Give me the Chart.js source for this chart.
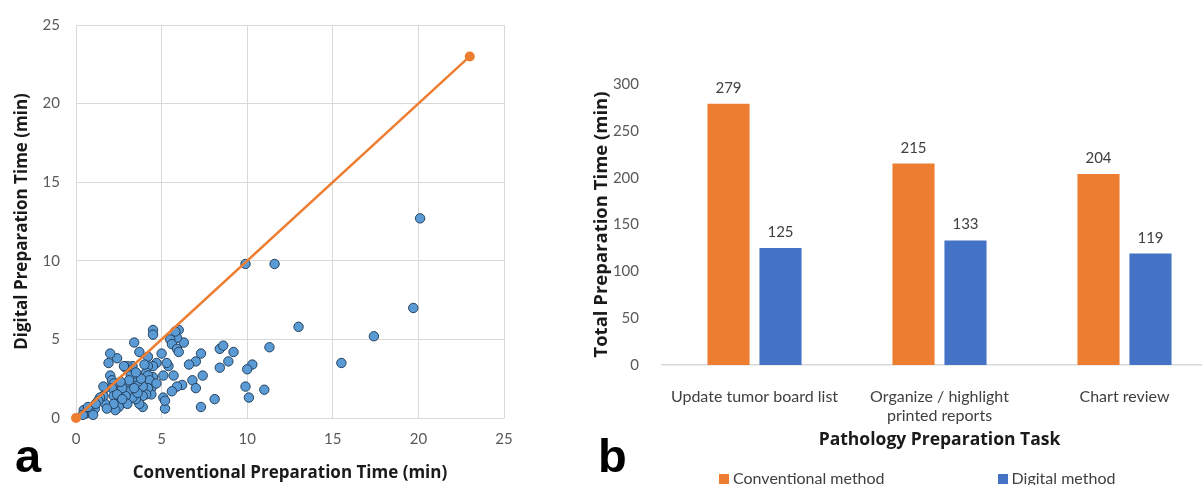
<!DOCTYPE html>
<html>
<head>
<meta charset="utf-8">
<script src="https://cdn.jsdelivr.net/npm/chart.js@4.4.1/dist/chart.umd.min.js"></script>
<style>
    html, body { margin: 0; padding: 0; background: #fff; overflow: hidden; width: 1202px; height: 485px; }
    canvas { position: absolute; top: 0; }
    #scatter { left: 0; }
    #bars { left: 560px; }
    .panel-tag { position: absolute; top: 432px; font: bold 47px "Liberation Sans", Arial, sans-serif; line-height: 47px; color: #000; }
    #legend { position: absolute; left: 719px; top: 468px; display: flex; gap: 113px; font: 16px Lato, sans-serif; color: #404040; white-space: nowrap; }
    #legend span.box { display: inline-block; width: 10px; height: 10px; margin-right: 4px; }
</style>
</head>
<body>
<canvas id="scatter" width="525" height="485"></canvas>
<canvas id="bars" width="670" height="485"></canvas>
<div class="panel-tag" style="left:15px">a</div>
<div class="panel-tag" style="left:598px">b</div>
<div id="legend"></div>
<script>
// panel a: per-case preparation times (min)
const conventionalTimes = [
    20.1, 9.9, 11.6, 19.7, 13.0, 17.4, 15.5, 11.3, 10.3, 10.0, 9.9, 10.1, 11.0, 8.1, 9.2, 8.9, 8.4, 8.6, 8.4,
    7.3, 7.0, 7.4, 6.8, 7.0, 7.3, 6.6, 6.3, 6.0, 5.9, 5.8, 5.5, 5.6, 5.9, 6.0, 6.2, 5.9, 5.6, 5.7, 5.4, 5.3,
    5.1, 5.0, 5.1, 5.2, 5.2, 4.5, 4.5, 4.7, 4.5, 4.5, 4.5, 4.4, 4.4, 4.2, 3.7, 3.4, 4.2, 4.1, 4.2, 4.3, 4.2,
    4.1, 3.9, 3.9, 3.9, 3.7, 3.5, 3.3, 3.6, 3.6, 3.4, 3.2, 3.3, 3.0, 2.9, 2.9, 3.0, 2.9, 3.0, 2.7, 2.5, 2.5,
    2.3, 2.4, 2.0, 1.9, 2.0, 2.1, 2.2, 2.1, 2.2, 2.2, 1.7, 1.7, 1.8, 1.6, 1.4, 1.3, 1.1, 0.8, 0.6, 0.45, 0.4,
    1.0, 0.7, 2.8, 4.7, 3.1, 2.4, 1.6, 1.15, 2.7, 3.8, 3.4, 2.6, 4.0, 3.5
];
const digitalTimes = [
    12.7, 9.8, 9.8, 7.0, 5.8, 5.2, 3.5, 4.5, 3.4, 3.1, 2.0, 1.3, 1.8, 1.2, 4.2, 3.6, 4.4, 4.6, 3.2,
    4.1, 3.6, 2.7, 2.4, 1.9, 0.7, 3.4, 4.8, 5.6, 5.1, 5.5, 5.0, 4.7, 4.4, 4.2, 2.1, 2.0, 1.7, 2.7, 3.3, 3.5,
    2.7, 4.1, 1.3, 0.6, 1.1, 5.6, 5.3, 3.5, 3.3, 2.6, 2.2, 1.9, 1.5, 3.9, 4.2, 4.8, 3.3, 2.9, 2.7, 2.4, 1.9,
    1.5, 1.4, 2.0, 0.7, 0.9, 1.2, 1.3, 1.6, 2.3, 2.6, 2.7, 3.3, 3.3, 3.2, 2.0, 1.7, 1.4, 0.9, 1.9, 1.3, 0.7,
    0.5, 3.8, 4.1, 3.5, 2.7, 2.4, 2.2, 1.9, 1.4, 0.9, 1.9, 0.9, 0.6, 1.4, 1.3, 1.1, 0.6, 0.4, 0.3, 0.5, 0.2,
    0.2, 0.7, 3.3, 2.2, 2.4, 1.5, 2.0, 0.9, 1.2, 2.5, 1.9, 2.3, 3.4, 2.9
];
// line of equality end points
const equalityLine = [0, 23];

// panel b: totals per task (min)
const taskLabels = ['Update tumor board list', ['Organize / highlight', 'printed reports'], 'Chart review'];
const conventionalTotals = [279, 215, 204];
const digitalTotals = [125, 133, 119];

const ORANGE = '#ED7D31';
const BLUE = '#4472C4';
const POINT_BLUE = '#5B9BD5';
const GRID = '#d9d9d9';
const TICK = '#595959';
const TICK_FONT = { family: 'Lato, sans-serif', size: 15 };
const TITLE_FONT = { family: '"Open Sans", sans-serif', size: 17, weight: 'bold' };

new Chart(document.getElementById('scatter'), {
    type: 'scatter',
    data: {
        datasets: [{
            type: 'line',
            label: 'Equality',
            data: equalityLine.map(v => ({ x: v, y: v })),
            borderColor: ORANGE,
            borderWidth: 2.5,
            pointRadius: 5,
            pointBackgroundColor: ORANGE,
            pointBorderWidth: 0,
            fill: false,
            clip: false
        }, {
            label: 'Cases',
            data: conventionalTimes.map((x, i) => ({ x: x, y: digitalTimes[i] })),
            backgroundColor: POINT_BLUE,
            borderColor: '#24415f',
            borderWidth: 1,
            pointRadius: 4.7,
            clip: false
        }]
    },
    options: {
        responsive: false,
        animation: false,
        layout: { padding: { top: 24, right: 21, left: 0, bottom: 0 } },
        plugins: { legend: { display: false }, tooltip: { enabled: false } },
        scales: {
            x: {
                type: 'linear', min: 0, max: 25,
                ticks: { stepSize: 5, padding: 12, color: TICK, font: TICK_FONT },
                grid: { color: GRID, drawTicks: false },
                border: { display: false },
                title: { display: true, text: 'Conventional Preparation Time (min)', color: '#1a1a1a', font: TITLE_FONT, padding: { top: 0, bottom: 2 } },
                afterFit: s => { s.height = 485 - 418; }
            },
            y: {
                min: 0, max: 25,
                ticks: { stepSize: 5, padding: 16, color: TICK, font: TICK_FONT },
                grid: { color: GRID, drawTicks: false },
                border: { display: false },
                title: { display: true, text: 'Digital Preparation Time (min)', color: '#1a1a1a', font: TITLE_FONT, padding: { top: 12, bottom: 0 } },
                afterFit: s => { s.width = 76; }
            }
        }
    }
});

// writes each bar's value just above it
const valueLabels = {
    id: 'valueLabels',
    afterDatasetsDraw(chart) {
        const ctx = chart.ctx;
        ctx.save();
        ctx.font = '15px Lato, sans-serif';
        ctx.fillStyle = '#404040';
        ctx.textAlign = 'center';
        ctx.textBaseline = 'alphabetic';
        chart.data.datasets.forEach((ds, i) => {
            chart.getDatasetMeta(i).data.forEach((bar, j) => {
                ctx.fillText(ds.data[j], bar.x, bar.y - 11);
            });
        });
        ctx.restore();
    }
};

const barChart = new Chart(document.getElementById('bars'), {
    type: 'bar',
    data: {
        labels: taskLabels,
        datasets: [
            { label: 'Conventional method', data: conventionalTotals, backgroundColor: ORANGE },
            { label: 'Digital method', data: digitalTotals, backgroundColor: BLUE }
        ]
    },
    options: {
        responsive: false,
        animation: false,
        layout: { padding: { top: 84, right: 13, left: 0, bottom: 0 } },
        datasets: { bar: { categoryPercentage: 0.562, barPercentage: 0.81 } },
        plugins: { legend: { display: false }, tooltip: { enabled: false } },
        scales: {
            x: {
                grid: { display: false },
                border: { color: GRID, width: 1.5 },
                ticks: { padding: 14, color: '#404040', font: { family: 'Lato, sans-serif', size: 16 }, maxRotation: 0, autoSkip: false },
                title: { display: true, text: 'Pathology Preparation Task', color: '#1a1a1a', font: { ...TITLE_FONT, size: 17.5 }, padding: { top: 0, bottom: 34 } },
                afterFit: s => { s.height = 485 - 365; }
            },
            y: {
                min: 0, max: 300,
                ticks: { stepSize: 50, padding: 15, color: TICK, font: TICK_FONT },
                grid: { display: false },
                border: { display: false },
                title: { display: true, text: 'Total Preparation Time (min)', color: '#1a1a1a', font: { ...TITLE_FONT, size: 18.5 }, padding: { top: 31, bottom: 0 } },
                afterFit: s => { s.width = 102; }
            }
        }
    },
    plugins: [valueLabels]
});

// legend below the bars, built from the datasets
const legend = document.getElementById('legend');
barChart.data.datasets.forEach(ds => {
    const item = document.createElement('div');
    const box = document.createElement('span');
    box.className = 'box';
    box.style.background = ds.backgroundColor;
    item.appendChild(box);
    item.appendChild(document.createTextNode(ds.label));
    legend.appendChild(item);
});
</script>
</body>
</html>
